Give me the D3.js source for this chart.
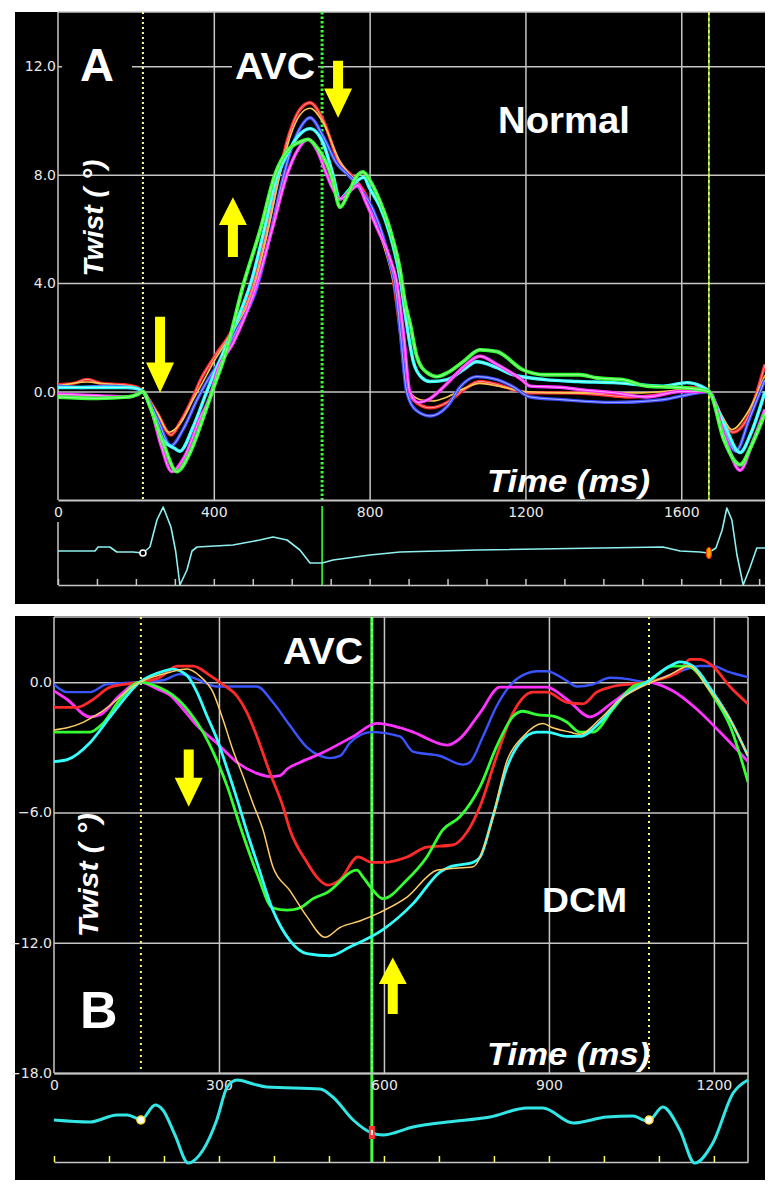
<!DOCTYPE html>
<html><head><meta charset="utf-8">
<script src="https://cdn.jsdelivr.net/npm/d3@7"></script>
<style>html,body{margin:0;padding:0;background:#fff;}svg{display:block;}</style>
</head><body>
<svg id="c" width="774" height="1192"></svg>
<script>
// ---------------- DATA ----------------
// Panel A (Normal): time (ms), twist (deg)
const aTicksY = [0, 4, 8, 12];
const aTicksX = [0, 400, 800, 1200, 1600];
const aGridX = [400, 800, 1200, 1600];
const aEvents = [218, 678, 1671]; // onset, AVC, next onset

const aRed = [[0,0.25],[40,0.3],[75,0.45],[110,0.3],[170,0.25],[205,0.15],[218,0],[255,-0.8],[290,-1.6],[313,-1.15],[347,-0.2],[365,0.4],[398,1.2],[449,2.3],[500,3.86],[537,6.0],[570,8.2],[596,9.6],[621,10.4],[647,10.65],[681,10.0],[720,8.5],[758,7.9],[792,7.2],[818,6.2],[844,5.2],[860,4.2],[878,2.3],[898,0],[925,-0.45],[955,-0.6],[999,-0.4],[1040,0.05],[1083,0.37],[1127,0.26],[1170,0.07],[1212,-0.05],[1300,-0.05],[1384,-0.1],[1468,-0.2],[1553,-0.1],[1622,0.15],[1671,0],[1705,-1.0],[1733,-1.5],[1769,-1.0],[1815,1.0]];
const aYellow = [[0,0.2],[75,0.35],[110,0.3],[170,0.2],[205,0.1],[218,0],[255,-0.8],[285,-1.5],[313,-1.2],[347,-0.3],[370,0.3],[400,1.1],[449,2.2],[500,3.7],[537,5.8],[570,8.0],[596,9.4],[621,10.2],[647,10.45],[681,9.9],[720,8.6],[758,7.8],[792,7.0],[818,6.1],[844,5.0],[862,4.0],[882,2.0],[902,0],[930,-0.3],[960,-0.35],[999,-0.2],[1040,0.1],[1083,0.3],[1130,0.2],[1200,0.0],[1300,-0.05],[1400,-0.05],[1500,-0.05],[1600,0.05],[1671,0],[1705,-0.9],[1730,-1.4],[1769,-0.8],[1815,0.6]];
const aBlue = [[0,0.2],[60,0.15],[120,0.2],[180,0.15],[205,0.1],[218,0],[255,-1.0],[290,-2.0],[321,-1.4],[357,-0.3],[385,0.44],[410,1.0],[460,2.3],[510,3.8],[545,5.8],[578,7.9],[600,9.0],[625,9.8],[647,10.1],[681,9.4],[716,8.4],[740,8.05],[775,7.5],[809,6.7],[835,5.7],[853,4.7],[865,4.0],[880,2.0],[895,0],[920,-0.7],[955,-0.9],[999,-0.55],[1033,0.18],[1075,0.55],[1127,0.44],[1168,0.18],[1212,-0.2],[1296,-0.3],[1425,-0.4],[1553,-0.3],[1622,-0.1],[1671,0],[1705,-1.2],[1740,-2.2],[1775,-1.0],[1815,0.44]];
const aCyan = [[0,0.15],[100,0.15],[180,0.15],[205,0.1],[218,0],[236,-0.5],[270,-1.8],[300,-2.1],[313,-2.2],[347,-1.3],[382,0],[420,1.3],[470,3.0],[495,4.0],[530,6.0],[560,7.8],[590,8.8],[615,9.4],[647,9.7],[681,9.15],[705,8.05],[724,7.1],[745,7.4],[770,7.8],[785,7.9],[800,7.5],[827,6.8],[852,5.8],[878,4.2],[895,2.5],[913,1.06],[935,0.5],[955,0.37],[999,0.44],[1040,0.8],[1075,1.1],[1127,0.88],[1168,0.62],[1250,0.44],[1335,0.37],[1425,0.33],[1553,0.2],[1615,0.33],[1650,0.2],[1671,0],[1710,-1.2],[1751,-2.25],[1780,-1.5],[1815,0.0]];
const aMagenta = [[0,-0.1],[100,-0.15],[180,-0.2],[205,-0.1],[218,0],[236,-0.5],[265,-2.0],[292,-2.95],[325,-2.4],[364,-1.0],[390,-0.2],[410,0.8],[450,1.8],[511,4.0],[550,6.0],[588,8.0],[615,8.9],[642,9.3],[665,8.9],[690,8.0],[705,7.5],[724,7.1],[750,7.4],[770,7.6],[790,7.0],[820,6.0],[850,5.0],[870,4.0],[888,2.0],[903,0],[925,-0.4],[950,-0.3],[999,0.3],[1040,0.9],[1083,1.3],[1127,1.0],[1190,0.44],[1212,0.2],[1296,0.15],[1340,0.07],[1425,-0.04],[1511,-0.2],[1596,0],[1671,0],[1710,-1.6],[1751,-2.9],[1785,-1.8],[1815,-0.66]];
const aGreen = [[0,-0.2],[100,-0.25],[180,-0.2],[205,-0.1],[218,0],[236,-0.55],[270,-1.9],[305,-2.95],[339,-2.25],[372,-1.0],[396,0],[430,1.4],[477,4.0],[520,6.0],[557,8.0],[590,8.9],[620,9.2],[642,9.3],[665,9.0],[690,8.4],[705,7.8],[724,6.8],[745,7.3],[765,7.9],[783,8.1],[800,7.8],[827,7.0],[852,6.0],[878,4.5],[891,3.3],[904,2.5],[921,1.3],[947,0.7],[973,0.55],[1000,0.7],[1040,1.1],[1083,1.54],[1127,1.47],[1194,0.8],[1250,0.62],[1340,0.62],[1384,0.5],[1450,0.44],[1511,0.2],[1596,0.15],[1671,0],[1710,-1.8],[1751,-2.7],[1780,-2.0],[1815,-0.8]];
const ecgA = [[0,0],[95,0],[103,0.4],[133,0.4],[151,-0.1],[193,-0.1],[218,-0.2],[236,0.4],[254,3.1],[270,4.4],[290,2.4],[302,0],[313,-3.4],[331,-1.9],[344,0],[357,0.4],[449,0.6],[518,1.1],[552,1.4],[588,1.1],[621,0.1],[647,-1.2],[678,-1.2],[706,-0.9],[801,-0.4],[878,-0.1],[1076,0.1],[1553,0.4],[1597,0],[1648,-0.1],[1669,-0.2],[1689,0.3],[1705,2.1],[1717,4.3],[1730,3.1],[1743,-0.4],[1759,-3.4],[1776,-1.7],[1794,0.3],[1815,0.3]];
const ecgTicksA = [0,100,200,300,400,500,600,700,800,900,1000,1100,1200,1300,1400,1500,1600,1700,1800];

// Panel B (DCM)
const bTicksY = [0, -6, -12, -18];
const bTicksX = [0, 300, 600, 900, 1200];
const bGridX = [300, 600, 900, 1200];
const bEvents = [158, 578, 1082];

const bBlue = [[0,-0.1],[24,-0.46],[65,-0.46],[96,-0.1],[156,0],[200,0.1],[229,0.37],[260,0.14],[296,-0.2],[369,-0.2],[398,-0.93],[429,-2.0],[460,-3.0],[484,-3.4],[502,-3.5],[520,-3.4],[538,-2.8],[560,-2.4],[578,-2.3],[629,-2.5],[653,-3.2],[702,-3.4],[744,-3.8],[756,-3.7],[780,-2.5],[805,-1.1],[835,0],[860,0.4],[878,0.5],[896,0.5],[930,0.1],[951,-0.2],[980,-0.1],[1011,0.2],[1040,0.15],[1078,0],[1125,0.37],[1175,0.74],[1198,0.74],[1224,0.5],[1262,0.23]];
const bMagenta = [[0,-0.4],[24,-0.8],[65,-1.6],[84,-1.5],[120,-0.6],[156,0],[187,-0.3],[211,-0.6],[235,-1.25],[260,-2.0],[296,-2.8],[333,-3.7],[369,-4.2],[393,-4.35],[411,-4.3],[424,-4.0],[447,-3.7],[484,-3.3],[544,-2.5],[587,-1.9],[629,-2.1],[653,-2.3],[715,-2.9],[738,-2.6],[775,-1.4],[811,-0.23],[896,-0.23],[933,-0.8],[975,-1.6],[1016,-0.93],[1078,0],[1125,-0.4],[1169,-1.25],[1211,-2.3],[1262,-3.66]];
const bRed = [[0,-1.16],[42,-1.16],[71,-0.8],[102,-0.23],[156,0],[193,0.23],[224,0.74],[253,0.74],[284,0.3],[307,-0.1],[333,-0.65],[351,-1.4],[369,-2.5],[393,-4.2],[416,-5.7],[429,-6.8],[460,-8.3],[478,-8.98],[498,-9.35],[520,-9.1],[553,-8.05],[578,-8.3],[598,-8.3],[642,-8.05],[678,-7.6],[725,-7.5],[751,-6.9],[775,-5.7],[805,-3.4],[835,-1.4],[871,-0.46],[896,-0.46],[933,-0.93],[962,-1.0],[987,-0.46],[1016,-0.2],[1078,0],[1138,0.5],[1156,1.05],[1175,1.05],[1198,0.74],[1229,-0.2],[1262,-1.0]];
const bGreen = [[0,-2.3],[65,-2.3],[89,-1.9],[120,-0.8],[156,0],[187,-0.2],[216,-0.6],[247,-1.4],[271,-2.3],[289,-3.2],[315,-4.8],[338,-6.6],[369,-8.8],[398,-10.4],[424,-10.5],[447,-10.4],[471,-9.97],[496,-9.7],[551,-8.66],[562,-8.98],[580,-9.58],[598,-9.97],[642,-9.1],[678,-8.05],[707,-6.8],[738,-6.2],[775,-4.8],[805,-2.96],[835,-1.57],[853,-1.34],[878,-1.5],[907,-1.57],[933,-1.85],[956,-2.3],[980,-2.3],[1016,-1.25],[1053,-0.2],[1078,0],[1125,0.74],[1151,0.74],[1198,-0.6],[1229,-2.0],[1262,-4.6]];
const bYellow = [[0,-2.2],[24,-2.1],[53,-1.85],[84,-1.4],[156,0],[211,0.46],[242,0.6],[265,0.28],[289,-0.46],[307,-1.7],[325,-3.1],[344,-4.35],[362,-5.6],[380,-6.8],[398,-8.5],[429,-9.6],[460,-10.8],[493,-11.75],[520,-11.3],[556,-11.0],[593,-10.6],[642,-9.9],[696,-8.66],[715,-8.6],[762,-8.5],[793,-6.7],[824,-3.6],[853,-2.5],[889,-1.9],[907,-2.1],[938,-2.3],[956,-2.4],[993,-1.7],[1029,-0.8],[1078,-0.1],[1115,0.28],[1156,0.74],[1187,-0.2],[1229,-1.7],[1262,-3.4]];
const bCyan = [[0,-3.66],[24,-3.57],[65,-2.8],[102,-1.6],[156,0],[198,0.5],[216,0.6],[242,0.3],[260,-0.46],[278,-1.55],[296,-2.6],[315,-4.0],[333,-5.4],[351,-6.9],[369,-8.3],[398,-10.5],[429,-11.9],[460,-12.5],[502,-12.6],[538,-12.2],[598,-11.4],[653,-10.2],[702,-8.75],[720,-8.5],[762,-8.3],[775,-8.05],[798,-6.2],[824,-3.9],[847,-2.8],[878,-2.3],[896,-2.3],[933,-2.5],[956,-2.5],[993,-1.85],[1029,-0.8],[1078,0],[1120,0.74],[1138,0.93],[1162,0.74],[1198,-0.46],[1229,-1.7],[1262,-3.4]];
const ecgB = [[0,0],[65,-0.2],[115,0.5],[133,0.5],[153,0.1],[158,0],[184,1.5],[198,1.0],[220,-1.5],[244,-4.3],[271,-3.0],[296,0],[315,3.3],[333,4.0],[362,3.6],[387,3.3],[484,3.1],[507,2.3],[544,0],[578,-1.3],[598,-1.5],[653,-0.7],[715,-0.2],[793,0.3],[860,1.2],[889,1.2],[944,-0.3],[1005,0.3],[1053,0.4],[1078,-0.1],[1084,0],[1107,1.3],[1138,-1.0],[1165,-4.3],[1198,-2.3],[1235,2.7],[1262,4.0]];
const ecgTicksB = [0,100,200,300,400,500,600,700,800,900,1000,1100,1200];

// arrows: [time, tail, headBase, tip]
const aArrows = [[262,2.76,1.07,-0.04],[449,4.96,6.14,7.17],[719,12.2,11.18,10.1]];
const bArrows = [[245,-3.1,-4.4,-5.74],[616,-15.28,-13.9,-12.68]];

// ---------------- DRAW ----------------
const svg = d3.select('#c');
const GRID = '#c6c6c6', TXT = '#e8e8e8';
const FONT = 'Liberation Sans, Arial, sans-serif';
const TICKFONT = 'DejaVu Sans, Verdana, sans-serif';
svg.append('rect').attr('x',15).attr('y',12).attr('width',750).attr('height',592).attr('fill','#000');
svg.append('rect').attr('x',15).attr('y',616).attr('width',750).attr('height',564).attr('fill','#000');

function styleAxis(g, withDomain){
  if(!withDomain) g.select('.domain').remove();
  g.selectAll('line').attr('stroke', GRID).attr('stroke-width',1.5);
  g.selectAll('text').attr('fill', TXT).attr('font-family', TICKFONT).attr('font-size', 14);
}
function arrow(g, x, y, a){
  const cx = x(a[0]), y0 = y(a[1]), y1 = y(a[2]), y2 = y(a[3]);
  const hw = 14, sw = 5;
  const p = `M${cx-sw},${y0}L${cx+sw},${y0}L${cx+sw},${y1}L${cx+hw},${y1}L${cx},${y2}L${cx-hw},${y1}L${cx-sw},${y1}Z`;
  g.append('path').attr('d',p).attr('fill','#ffff00');
}
function curve(g, data, x, y, color, w, glow, curveType){
  const line = d3.line().x(d=>x(d[0])).y(d=>y(d[1])).curve(curveType||d3.curveMonotoneX);
  g.append('path').attr('d',line(data)).attr('fill','none').attr('stroke',color).attr('stroke-width',w).attr('stroke-linejoin','round');
  if(glow) g.append('path').attr('d',line(data)).attr('fill','none').attr('stroke','#fff').attr('stroke-opacity',0.55).attr('stroke-width',1);
}
function txt(x,y,s,size,opts){
  opts=opts||{};
  const t = svg.append('text').attr('x',x).attr('y',y).text(s).attr('fill','#fff')
    .attr('font-family',FONT).attr('font-size',size)
    .attr('font-weight',opts.bold?'bold':'normal').attr('font-style',opts.italic?'italic':'normal');
  if(opts.len) t.attr('textLength',opts.len).attr('lengthAdjust','spacingAndGlyphs');
  if(opts.rot){ t.attr('x',0).attr('y',0).attr('text-anchor','middle').attr('dominant-baseline','central').attr('transform',`translate(${x},${y}) rotate(-90)`); }
  return t;
}

// ===== Panel A =====
const xA = d3.scaleLinear().domain([0,1815]).range([58,765]);
const yA = d3.scaleLinear().domain([-4,14]).range([500,12]);
const yEA = d3.scaleLinear().domain([-3.4,4.4]).range([585,507]);
const gA = svg.append('g');
gA.append('g').attr('transform','translate(58,0)')
  .call(d3.axisLeft(yA).tickValues(aTicksY).tickFormat(d3.format('.1f')).tickSize(-(765-58)).tickPadding(2))
  .call(g=>styleAxis(g,false));
gA.append('g').attr('transform','translate(0,500)')
  .call(d3.axisBottom(xA).tickValues(aGridX).tickFormat('').tickSize(-(500-12)))
  .call(g=>styleAxis(g,false));
// frame
gA.append('line').attr('x1',xA(0)).attr('x2',xA(1815)).attr('y1',yA(14)).attr('y2',yA(14)).attr('stroke',GRID).attr('stroke-width',1.5);
gA.append('line').attr('x1',xA(0)).attr('x2',xA(0)).attr('y1',yA(14)).attr('y2',yA(-4)).attr('stroke',GRID).attr('stroke-width',1.5);
// label boxes
gA.append('rect').attr('x',62).attr('y',38).attr('width',70).attr('height',52).attr('fill','#000');
gA.append('rect').attr('x',232).attr('y',48).attr('width',86).attr('height',36).attr('fill','#000');
// event lines
gA.append('line').attr('x1',xA(aEvents[0])).attr('x2',xA(aEvents[0])).attr('y1',yA(14)).attr('y2',yA(-4))
  .attr('stroke','#ffff90').attr('stroke-width',2).attr('stroke-dasharray','2,3');
gA.append('line').attr('x1',xA(aEvents[1])).attr('x2',xA(aEvents[1])).attr('y1',yA(14)).attr('y2',yA(-4))
  .attr('stroke','#33ff33').attr('stroke-width',3).attr('stroke-dasharray','2.5,2');
gA.append('line').attr('x1',xA(aEvents[2])).attr('x2',xA(aEvents[2])).attr('y1',yA(14)).attr('y2',yA(-4))
  .attr('stroke','#88ee44').attr('stroke-width',1.5);
gA.append('line').attr('x1',xA(aEvents[2])).attr('x2',xA(aEvents[2])).attr('y1',yA(14)).attr('y2',yA(-4))
  .attr('stroke','#ffff66').attr('stroke-width',1.5).attr('stroke-dasharray','3,3');
// curves
svg.append('clipPath').attr('id','clipA').append('rect').attr('x',58).attr('y',12).attr('width',707).attr('height',488);
const cA = gA.append('g').attr('clip-path','url(#clipA)');
curve(cA, aRed, xA, yA, '#ff2a2a', 3.4, true);
curve(cA, aYellow, xA, yA, '#f7c850', 1.6, false);
curve(cA, aBlue, xA, yA, '#3a4cff', 3.4, true);
curve(cA, aCyan, xA, yA, '#33ffff', 3.4, true);
curve(cA, aMagenta, xA, yA, '#ff33ff', 3.4, true);
curve(cA, aGreen, xA, yA, '#33ff33', 3.8, true);
// x labels + axis line
gA.append('g').attr('transform','translate(0,500)')
  .call(d3.axisBottom(xA).tickValues(aTicksX).tickFormat(d3.format('d')).tickSize(0).tickPadding(7).tickSizeOuter(0))
  .call(g=>{ g.select('.domain').attr('stroke',GRID).attr('stroke-width',2.2); styleAxis(g,true); });
// ECG A
gA.append('line').attr('x1',xA(0)).attr('x2',xA(0)).attr('y1',522).attr('y2',585).attr('stroke',GRID).attr('stroke-width',1.5);
gA.append('g').attr('transform','translate(0,585)')
  .call(d3.axisBottom(xA).tickValues(ecgTicksA).tickFormat('').tickSize(-6).tickSizeOuter(0))
  .call(g=>{ g.select('.domain').attr('stroke',GRID).attr('stroke-width',1.5); styleAxis(g,true); });
gA.append('line').attr('x1',xA(aEvents[1])).attr('x2',xA(aEvents[1])).attr('y1',506).attr('y2',585).attr('stroke','#33ff33').attr('stroke-width',1.6);
curve(gA, ecgA, xA, yEA, '#8ff0f0', 1.6, false, d3.curveLinear);
gA.append('circle').attr('cx',xA(aEvents[0])).attr('cy',yEA(-0.2)).attr('r',3).attr('fill','#000').attr('stroke','#fff').attr('stroke-width',1.6);
gA.append('ellipse').attr('cx',xA(aEvents[2])).attr('cy',yEA(-0.2)).attr('rx',2.5).attr('ry',5.5).attr('fill','#ffaa00').attr('stroke','#ff3300').attr('stroke-width',1.2);
aArrows.forEach(a=>arrow(gA, xA, yA, a));

// ===== Panel B =====
const xB = d3.scaleLinear().domain([0,1262]).range([54,748]);
const yB = d3.scaleLinear().domain([-18,3]).range([1073,617]);
const yEB = d3.scaleLinear().domain([-4.3,4.0]).range([1163,1080]);
const gB = svg.append('g');
gB.append('g').attr('transform','translate(54,0)')
  .call(d3.axisLeft(yB).tickValues(bTicksY).tickFormat(d3.format('.1f')).tickSize(-(748-54)).tickPadding(2))
  .call(g=>styleAxis(g,false));
gB.append('g').attr('transform','translate(0,1073)')
  .call(d3.axisBottom(xB).tickValues(bGridX).tickFormat('').tickSize(-(1073-617)))
  .call(g=>styleAxis(g,false));
gB.append('line').attr('x1',xB(0)).attr('x2',xB(1262)).attr('y1',yB(3)).attr('y2',yB(3)).attr('stroke',GRID).attr('stroke-width',1.5);
gB.append('line').attr('x1',xB(0)).attr('x2',xB(0)).attr('y1',yB(3)).attr('y2',yB(-18)).attr('stroke',GRID).attr('stroke-width',1.5);
gB.append('line').attr('x1',xB(1262)).attr('x2',xB(1262)).attr('y1',yB(3)).attr('y2',1162).attr('stroke',GRID).attr('stroke-width',1.5);
[bEvents[0], bEvents[2]].forEach(t=>{
  gB.append('line').attr('x1',xB(t)).attr('x2',xB(t)).attr('y1',yB(3)).attr('y2',yB(-18))
    .attr('stroke','#ffff66').attr('stroke-width',2).attr('stroke-dasharray','2,4');
});
gB.append('line').attr('x1',xB(bEvents[1])).attr('x2',xB(bEvents[1])).attr('y1',yB(3)).attr('y2',1162)
  .attr('stroke','#44ff44').attr('stroke-width',3);
gB.append('line').attr('x1',xB(bEvents[1])).attr('x2',xB(bEvents[1])).attr('y1',yB(3)).attr('y2',yB(-18))
  .attr('stroke','#ddffdd').attr('stroke-width',1).attr('stroke-dasharray','2,4');
svg.append('clipPath').attr('id','clipB').append('rect').attr('x',54).attr('y',617).attr('width',694).attr('height',456);
const cB = gB.append('g').attr('clip-path','url(#clipB)');
curve(cB, bBlue, xB, yB, '#3a55ff', 2.4, false);
curve(cB, bMagenta, xB, yB, '#ff33ff', 2.8, false);
curve(cB, bRed, xB, yB, '#ff2a2a', 2.8, false);
curve(cB, bGreen, xB, yB, '#33ff33', 2.8, false);
curve(cB, bCyan, xB, yB, '#33ffff', 2.8, false);
curve(cB, bYellow, xB, yB, '#ffcc66', 1.5, false);
gB.append('g').attr('transform','translate(0,1073)')
  .call(d3.axisBottom(xB).tickValues(bTicksX).tickFormat(d3.format('d')).tickSize(0).tickPadding(7).tickSizeOuter(0))
  .call(g=>{ g.select('.domain').attr('stroke',GRID).attr('stroke-width',2.2); styleAxis(g,true); });
// ECG B
gB.append('g').attr('transform','translate(0,1162)')
  .call(d3.axisBottom(xB).tickValues(ecgTicksB).tickFormat('').tickSize(-6).tickSizeOuter(0))
  .call(g=>{ styleAxis(g,true); g.select('.domain').attr('stroke',GRID).attr('stroke-width',1.5); g.selectAll('.tick line').attr('stroke','#ffff55'); });
curve(gB, ecgB, xB, yEB, '#33e6e6', 3, false, d3.curveMonotoneX);
gB.append('circle').attr('cx',xB(bEvents[0])).attr('cy',yEB(0)).attr('r',4).attr('fill','#fff').attr('stroke','#ffdd33').attr('stroke-width',1.5);
gB.append('rect').attr('x',xB(bEvents[1])-3).attr('y',yEB(-1.3)-7).attr('width',6).attr('height',13).attr('fill','#ff3333');
gB.append('rect').attr('x',xB(bEvents[1])-1).attr('y',yEB(-1.3)-3).attr('width',2).attr('height',5).attr('fill','#fff');
gB.append('circle').attr('cx',xB(bEvents[2])).attr('cy',yEB(0)).attr('r',4).attr('fill','#fff').attr('stroke','#ffdd33').attr('stroke-width',1.5);
bArrows.forEach(a=>arrow(gB, xB, yB, a));

// ===== Texts =====
txt(80,81,'A',47,{bold:true});
txt(235,79,'AVC',36,{bold:true,len:80});
txt(498,133,'Normal',37,{bold:true,len:132});
txt(487,492,'Time (ms)',31,{bold:true,italic:true,len:163});
txt(93,218,'Twist ( °)',28,{bold:true,italic:true,rot:true,len:117});
txt(80,1028,'B',52,{bold:true});
txt(283,664,'AVC',36,{bold:true,len:80});
txt(542,912,'DCM',35,{bold:true,len:85});
txt(487,1065,'Time (ms)',31,{bold:true,italic:true,len:163});
txt(88,875,'Twist ( °)',28,{bold:true,italic:true,rot:true,len:124});
</script>
</body></html>
